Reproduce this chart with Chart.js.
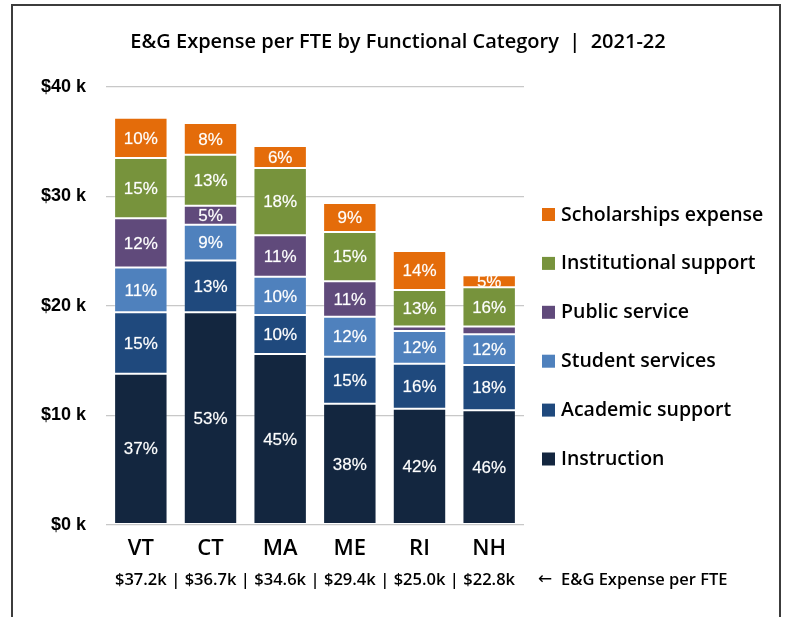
<!DOCTYPE html>
<html>
<head>
<meta charset="utf-8">
<script src="https://cdn.jsdelivr.net/npm/chart.js@4/dist/chart.umd.min.js"></script>
<style>
  body { margin: 0; background: #fff; overflow: hidden; }
  #frame { position: absolute; left: 11px; top: 4px; width: 766px; height: 700px; border: 2px solid #3c3c3c; }
  #wrap { position: absolute; left: 0; top: 0; width: 787px; height: 617px; }
</style>
</head>
<body>
<div id="frame"></div>
<div id="wrap"><canvas id="chart" width="787" height="617"></canvas></div>
<script>
// Datos (miles de $ por FTE)
const categories = ["VT", "CT", "MA", "ME", "RI", "NH"];
const instruction = [13.8, 19.4, 15.6, 11.05, 10.6, 10.45];
const academicSupport = [5.6, 4.75, 3.55, 4.3, 4.1, 4.15];
const studentServices = [4.1, 3.25, 3.5, 3.65, 3.0, 2.8];
const publicService = [4.5, 1.75, 3.8, 3.25, 0.4, 0.7];
const institutionalSupport = [5.5, 4.65, 6.15, 4.5, 3.35, 3.6];
const scholarships = [3.7, 2.9, 2.0, 2.65, 3.55, 1.1];
const totalLabels = ["$37.2k", "$36.7k", "$34.6k", "$29.4k", "$25.0k", "$22.8k"];
const yTicks = [0, 10, 20, 30, 40];

const titleText = "E&G Expense per FTE by Functional Category  |  2021-22";
const totalsNote = "E&G Expense per FTE";
const UI_FONT = '"Open Sans", "Noto Sans", sans-serif';

const series = [
  { label: "Instruction", data: instruction, color: "#13263f" },
  { label: "Academic support", data: academicSupport, color: "#1f497d" },
  { label: "Student services", data: studentServices, color: "#4f81bd" },
  { label: "Public service", data: publicService, color: "#604a7b" },
  { label: "Institutional support", data: institutionalSupport, color: "#77933c" },
  { label: "Scholarships expense", data: scholarships, color: "#e46c0a" },
];

const totals = categories.map(function (c, j) {
  return series.reduce(function (s, d) { return s + d.data[j]; }, 0);
});

// Plugin para título, leyenda, porcentajes y totales
const extras = {
  id: "extras",
  afterDatasetsDraw: function (chart) {
    const ctx = chart.ctx;
    ctx.save();
    ctx.fillStyle = "#ffffff";
    ctx.strokeStyle = "rgba(255,255,255,0.5)";
    ctx.lineWidth = 0.4;
    ctx.font = '17px "Liberation Sans", Arial, sans-serif';
    ctx.textAlign = "center";
    ctx.textBaseline = "middle";
    series.forEach(function (s, i) {
      chart.getDatasetMeta(i).data.forEach(function (bar, j) {
        const pct = (s.data[j] / totals[j]) * 100;
        if (pct < 4.5) return;
        const txt = Math.round(pct) + "%";
        const ty = (bar.y + bar.base) / 2 + 1;
        ctx.fillText(txt, bar.x, ty);
        ctx.strokeText(txt, bar.x, ty);
      });
    });
    ctx.restore();
  },
  afterDraw: function (chart) {
    const ctx = chart.ctx;
    const x = chart.scales.x;
    ctx.save();
    ctx.fillStyle = "#000000";
    ctx.textBaseline = "middle";

    // título
    ctx.font = "600 20px " + UI_FONT;
    ctx.textAlign = "center";
    ctx.fillText(titleText, 398, 42);

    // leyenda (orden inverso)
    ctx.font = "600 19.5px " + UI_FONT;
    ctx.textAlign = "left";
    for (let k = series.length - 1, row = 0; k >= 0; k--, row++) {
      const y = 214 + row * 48.9;
      ctx.fillStyle = series[k].color;
      ctx.fillRect(542, y - 6, 13, 13);
      ctx.fillStyle = "#000000";
      ctx.fillText(series[k].label, 561, y + 1);
    }

    // fila de totales
    ctx.font = "600 16.5px " + UI_FONT;
    ctx.textAlign = "center";
    const yT = 580;
    totalLabels.forEach(function (t, j) {
      const cx = x.getPixelForValue(j);
      ctx.fillText(t, cx, yT);
      if (j < totalLabels.length - 1) {
        const sx = (cx + x.getPixelForValue(j + 1)) / 2;
        ctx.fillText("|", sx, yT);
      }
    });
    ctx.textAlign = "left";
    ctx.fillText(totalsNote, 561, yT);
    ctx.font = '17px "DejaVu Sans", sans-serif';
    ctx.fillText("\u2190", 538, yT);
    ctx.restore();
  },
};

const ctx = document.getElementById("chart").getContext("2d");
const chart = new Chart(ctx, {
  type: "bar",
  data: {
    labels: categories,
    datasets: series.map(function (s) {
      return {
        label: s.label,
        data: s.data,
        backgroundColor: s.color,
        borderColor: "rgba(255,255,255,0.18)",
        borderWidth: 1,
        borderSkipped: false,
        barPercentage: 0.767,
        categoryPercentage: 1,
      };
    }),
  },
  options: {
    responsive: false,
    animation: false,
    layout: {
      padding: { left: 0, right: 263, top: 87, bottom: 52 },
    },
    scales: {
      x: {
        stacked: true,
        grid: { display: false },
        border: { display: false },
        ticks: {
          color: "#000000",
          padding: 3,
          font: { family: UI_FONT, size: 22, weight: "600" },
        },
      },
      y: {
        stacked: true,
        min: 0,
        max: 40,
        afterFit: function (scale) { scale.width = 106; },
        afterBuildTicks: function (scale) {
          scale.ticks = yTicks.map(function (v) { return { value: v }; });
        },
        grid: { color: "#c8c8c8", lineWidth: 1.3, drawTicks: false },
        border: { display: false },
        ticks: {
          color: "#000000",
          padding: 20,
          font: { family: '"Liberation Sans", Arial, sans-serif', size: 18, weight: "bold" },
          callback: function (v) { return "$" + v + " k"; },
        },
      },
    },
    plugins: {
      legend: { display: false },
      tooltip: { enabled: false },
    },
  },
  plugins: [extras],
});
</script>
</body>
</html>
